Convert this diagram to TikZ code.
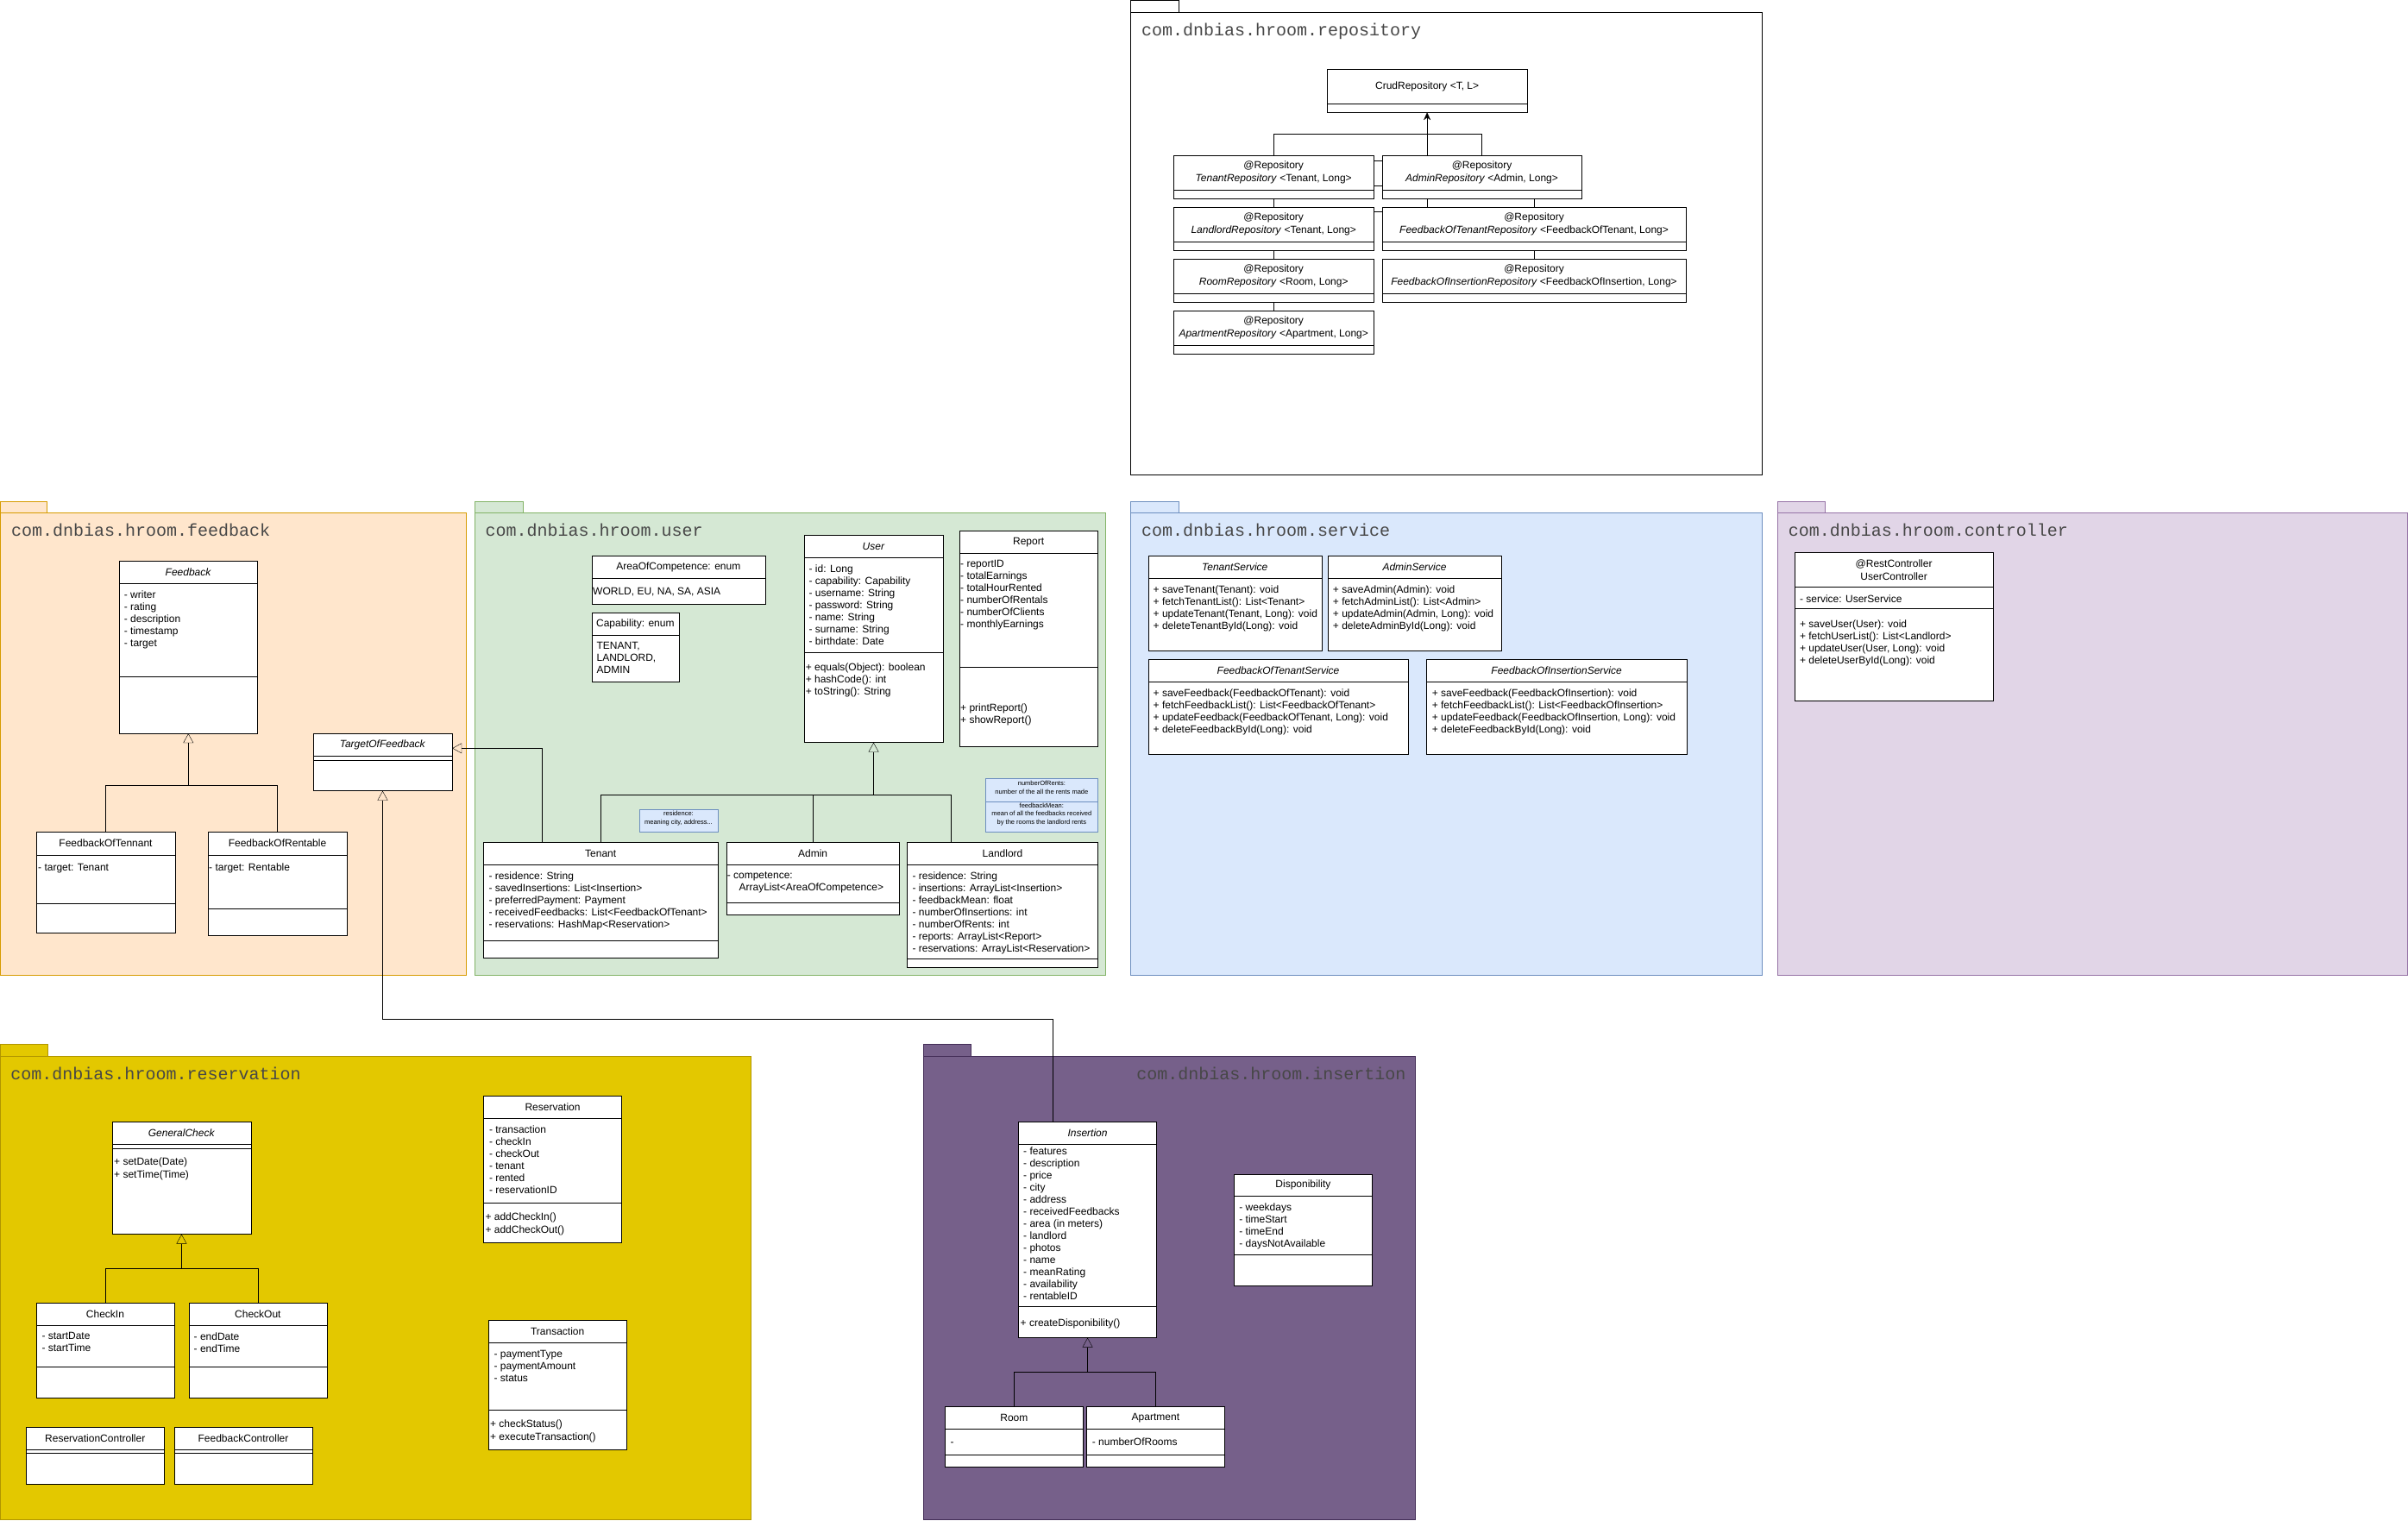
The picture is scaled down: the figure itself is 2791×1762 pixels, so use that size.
\documentclass[tikz,border=0pt]{standalone}
\usepackage{fontspec}
\setmainfont{Liberation Sans}
\setmonofont{Liberation Mono}
\usetikzlibrary{arrows.meta,fit,calc}

\definecolor{fbFill}{HTML}{FFE6CC}
\definecolor{fbLine}{HTML}{D79B00}
\definecolor{usrFill}{HTML}{D5E8D4}
\definecolor{usrLine}{HTML}{82B366}
\definecolor{srvFill}{HTML}{DAE8FC}
\definecolor{srvLine}{HTML}{6C8EBF}
\definecolor{ctrlFill}{HTML}{E1D5E7}
\definecolor{ctrlLine}{HTML}{9673A6}
\definecolor{resFill}{HTML}{E3C800}
\definecolor{resLine}{HTML}{B09500}
\definecolor{insFill}{HTML}{76608A}
\definecolor{insLine}{HTML}{432D57}

\pgfdeclarelayer{pkg}
\pgfdeclarelayer{edges}
\pgfsetlayers{pkg,edges,main}

\tikzset{
  classbox/.style={draw, fill=white, inner sep=0pt},
  classtitle/.style={align=center, inner sep=0pt, font=\fontsize{12}{15}\selectfont},
  members/.style={anchor=north west, inner sep=0pt, align=left, font=\fontsize{12}{14}\selectfont, execute at begin node=\strut},
  loose/.style={font=\fontsize{12}{15}\selectfont},
  pkgtitle/.style={anchor=base west, inner sep=0pt, font=\ttfamily\fontsize{20}{24}\selectfont, text=black!72},
  note/.style={draw=srvLine, fill=srvFill, inner sep=0pt, align=center, font=\fontsize{7.5}{9.5}\selectfont},
  gen/.style={-{Triangle[open, length=11pt, width=12pt]}},
  inherit/.style={-{Stealth[length=9pt, width=8pt]}},
  pkgRepo/.style={draw=black, fill=white},
  pkgFeedback/.style={draw=fbLine, fill=fbFill},
  pkgUser/.style={draw=usrLine, fill=usrFill},
  pkgService/.style={draw=srvLine, fill=srvFill},
  pkgController/.style={draw=ctrlLine, fill=ctrlFill},
  pkgReservation/.style={draw=resLine, fill=resFill},
  pkgInsertion/.style={draw=insLine, fill=insFill}
}

% name, left, top, right, bottom, head line, attribute line, title
\newcommand{\umlclass}[8]{%
  \node[classbox, fit={(#2,#3) (#4,#5)}] (#1) {};
  \draw (#2,#6) -- (#4,#6) (#2,#7) -- (#4,#7);
  \node[classtitle] (#1-title) at ({(#2+#4)/2},{(#3+#6)/2}) {#8};
}
% [style] name, x, centre of first line, text
\newcommand{\members}[5][]{%
  \node[members,#1] (#2) at ({#3},{#4-5.5}) {#5};
}
% left, tab top, tab right, body top, right, bottom, style
\newcommand{\umlpackage}[7]{%
  \draw[#7] (#1,#2) rectangle (#3,#4);
  \draw[#7] (#1,#4) rectangle (#5,#6);
}

\begin{document}
\begin{tikzpicture}[x=1pt, y=-1pt, line width=1pt]
  \useasboundingbox (0,0) rectangle (2791,1762);

  \begin{pgfonlayer}{pkg}
    \umlpackage{1310.6}{0.5}{1366}{14}{2042}{550}{pkgRepo}
    \umlpackage{0.5}{581}{54.6}{594}{540}{1130}{pkgFeedback}
    \umlpackage{550.5}{581}{605.7}{594}{1281}{1130}{pkgUser}
    \umlpackage{1310.6}{581}{1366}{594}{2042}{1130}{pkgService}
    \umlpackage{2060.4}{581}{2115.6}{594}{2790}{1130}{pkgController}
    \umlpackage{0.5}{1210}{55.6}{1224.3}{870}{1761.5}{pkgReservation}
    \umlpackage{1070.5}{1210}{1125.5}{1224.3}{1640.6}{1761.5}{pkgInsertion}
  \end{pgfonlayer}

  \node[pkgtitle] (repoTitle) at (1323,41.5) {com.dnbias.hroom.repository};
  \node[pkgtitle] (fbTitle) at (13,621) {com.dnbias.hroom.feedback};
  \node[pkgtitle] (userTitle) at (562.5,621) {com.dnbias.hroom.user};
  \node[pkgtitle] (srvTitle) at (1323,621) {com.dnbias.hroom.service};
  \node[pkgtitle] (ctrlTitle) at (2072.6,621) {com.dnbias.hroom.controller};
  \node[pkgtitle] (resTitle) at (12.3,1251) {com.dnbias.hroom.reservation};
  \node[pkgtitle, anchor=base east] (insTitle) at (1629.5,1251) {com.dnbias.hroom.insertion};

  % repository
  \umlclass{crud}{1538.5}{80}{1769.7}{130}{120}{120}{CrudRepository <T, L>}
  \umlclass{tenantRepo}{1360.6}{180}{1591.8}{230}{220}{220}{@Repository\\\textit{TenantRepository} <Tenant, Long>}
  \umlclass{adminRepo}{1602}{180}{1833}{230}{220}{220}{@Repository\\\textit{AdminRepository} <Admin, Long>}
  \umlclass{landlordRepo}{1360.6}{240}{1591.8}{290}{280}{280}{@Repository\\\textit{LandlordRepository} <Tenant, Long>}
  \umlclass{fbTenantRepo}{1602}{240}{1954}{290}{280}{280}{@Repository\\\textit{FeedbackOfTenantRepository} <FeedbackOfTenant, Long>}
  \umlclass{roomRepo}{1360.6}{300}{1591.8}{350}{340}{340}{@Repository\\\textit{RoomRepository} <Room, Long>}
  \umlclass{fbInsRepo}{1602}{300}{1954}{350}{340}{340}{@Repository\\\textit{FeedbackOfInsertionRepository} <FeedbackOfInsertion, Long>}
  \umlclass{apartmentRepo}{1360.6}{360}{1591.8}{410}{400}{400}{@Repository\\\textit{ApartmentRepository} <Apartment, Long>}

  % feedback
  \umlclass{feedback}{138}{650}{298.6}{850}{676.5}{784.5}{\textit{Feedback}}
  \members{feedback-attr}{143.7}{690}{- writer\\- rating\\- description\\- timestamp\\- target}
  \umlclass{targetFb}{363}{850}{524}{916.5}{876.5}{881}{\textit{TargetOfFeedback}}
  \umlclass{fbTennant}{42}{964.5}{203}{1081}{990.7}{1047.5}{FeedbackOfTennant}
  \members{fbTennant-attr}{44}{1005.3}{- target: Tenant}
  \umlclass{fbRentable}{241}{964.5}{402}{1084.5}{990.7}{1053}{FeedbackOfRentable}
  \members{fbRentable-attr}{242}{1005.3}{- target: Rentable}

  % user
  \umlclass{area}{686}{644.5}{886.7}{700}{670.4}{670.4}{AreaOfCompetence: enum}
  \members{area-attr}{687}{684.5}{WORLD, EU, NA, SA, ASIA}
  \umlclass{capability}{686}{710.4}{786.7}{790.4}{736.5}{736.5}{Capability: enum}
  \members{capability-attr}{691.4}{750}{TENANT,\\LANDLORD,\\ADMIN}
  \umlclass{user}{932.2}{620.5}{1092.9}{860.5}{646.4}{755.8}{\textit{User}}
  \members{user-attr}{937.4}{660.2}{- id: Long\\- capability: Capability\\- username: String\\- password: String\\- name: String\\- surname: String\\- birthdate: Date}
  \members{user-ops}{933.6}{774.4}{+ equals(Object): boolean\\+ hashCode(): int\\+ toString(): String}
  \umlclass{report}{1111.8}{615.5}{1272.5}{865.6}{641.3}{773.3}{Report}
  \members{report-attr}{1113}{655}{- reportID\\- totalEarnings\\- totalHourRented\\- numberOfRentals\\- numberOfClients\\- monthlyEarnings}
  \members{report-ops}{1113}{821}{+ printReport()\\+ showReport()}
  \umlclass{tenant}{560.6}{976.5}{831.7}{1110.4}{1002.4}{1090.4}{Tenant}
  \members{tenant-attr}{566.3}{1016}{- residence: String\\- savedInsertions: List<Insertion>\\- preferredPayment: Payment\\- receivedFeedbacks: List<FeedbackOfTenant>\\- reservations: HashMap<Reservation>}
  \umlclass{admin}{841.7}{976.5}{1042.6}{1060.5}{1002.4}{1046.4}{Admin}
  \members{admin-attr}{842.6}{1016.5}{- competence:\\\hspace*{13.8pt}ArrayList<AreaOfCompetence>}
  \umlclass{landlord}{1051.6}{976.5}{1272.5}{1121.3}{1002.4}{1110.7}{Landlord}
  \members{landlord-attr}{1057.3}{1016.5}{- residence: String\\- insertions: ArrayList<Insertion>\\- feedbackMean: float\\- numberOfInsertions: int\\- numberOfRents: int\\- reports: ArrayList<Report>\\- reservations: ArrayList<Reservation>}
  \node[note, fit={(741.2,938.4) (831.7,964.5)}] (residenceNote) {residence:\\meaning city, address...};
  \node[note, fit={(1142.2,902.4) (1272.5,929)}] (rentsNote) {numberOfRents:\\number of the all the rents made};
  \node[note, fit={(1142.2,929) (1272.5,964.5)}] (meanNote) {feedbackMean:\\mean of all the feedbacks received\\by the rooms the landlord rents};

  % service
  \umlclass{tenantSrv}{1330.8}{644.3}{1531.7}{754.3}{670.3}{670.3}{\textit{TenantService}}
  \members{tenantSrv-ops}{1336.5}{684.3}{+ saveTenant(Tenant): void\\+ fetchTenantList(): List<Tenant>\\+ updateTenant(Tenant, Long): void\\+ deleteTenantById(Long): void}
  \umlclass{adminSrv}{1539}{644.3}{1740}{754.3}{670.3}{670.3}{\textit{AdminService}}
  \members{adminSrv-ops}{1544.7}{684.3}{+ saveAdmin(Admin): void\\+ fetchAdminList(): List<Admin>\\+ updateAdmin(Admin, Long): void\\+ deleteAdminById(Long): void}
  \umlclass{fbTenantSrv}{1330.8}{764.3}{1632.2}{874.3}{790.3}{790.3}{\textit{FeedbackOfTenantService}}
  \members{fbTenantSrv-ops}{1336.5}{804.3}{+ saveFeedback(FeedbackOfTenant): void\\+ fetchFeedbackList(): List<FeedbackOfTenant>\\+ updateFeedback(FeedbackOfTenant, Long): void\\+ deleteFeedbackById(Long): void}
  \umlclass{fbInsSrv}{1653.4}{764.3}{1954.8}{874.3}{790.3}{790.3}{\textit{FeedbackOfInsertionService}}
  \members{fbInsSrv-ops}{1659.6}{804.3}{+ saveFeedback(FeedbackOfInsertion): void\\+ fetchFeedbackList(): List<FeedbackOfInsertion>\\+ updateFeedback(FeedbackOfInsertion, Long): void\\+ deleteFeedbackById(Long): void}

  % controller
  \umlclass{userCtrl}{2080.2}{640.3}{2310}{812.3}{680.3}{705.3}{@RestController\\UserController}
  \members{userCtrl-attr}{2085.8}{694}{- service: UserService}
  \members{userCtrl-ops}{2085.8}{724}{+ saveUser(User): void\\+ fetchUserList(): List<Landlord>\\+ updateUser(User, Long): void\\+ deleteUserById(Long): void}

  % reservation
  \umlclass{genCheck}{130.2}{1300.4}{290.7}{1430.4}{1326.4}{1330.7}{\textit{GeneralCheck}}
  \members[loose]{genCheck-ops}{132}{1347}{+ setDate(Date)\\+ setTime(Time)}
  \umlclass{checkIn}{42}{1510.4}{202}{1620.4}{1536.4}{1584.3}{CheckIn}
  \members{checkIn-attr}{48.3}{1550}{- startDate\\- startTime}
  \umlclass{checkOut}{218.9}{1510.4}{378.8}{1620.4}{1536.4}{1584.3}{CheckOut}
  \members{checkOut-attr}{224.5}{1550}{- endDate\\- endTime}
  \umlclass{resCtrl}{30.3}{1654.3}{190.2}{1720.4}{1680.4}{1684.3}{ReservationController}
  \umlclass{fbCtrl}{202}{1654.3}{362}{1720.4}{1680.4}{1684.3}{FeedbackController}
  \umlclass{reservation}{560.6}{1270.4}{720.5}{1440.4}{1296.4}{1394.3}{Reservation}
  \members{reservation-attr}{566.8}{1310.4}{- transaction\\- checkIn\\- checkOut\\- tenant\\- rented\\- reservationID}
  \members[loose]{reservation-ops}{562.3}{1411.4}{+ addCheckIn()\\+ addCheckOut()}
  \umlclass{transaction}{566.2}{1530.4}{726.2}{1680.4}{1556.4}{1634.3}{Transaction}
  \members{transaction-attr}{572.4}{1570.4}{- paymentType\\- paymentAmount\\- status}
  \members[loose]{transaction-ops}{567.9}{1651}{+ checkStatus()\\+ executeTransaction()}

  % insertion
  \umlclass{insertion}{1180.6}{1300.4}{1340.5}{1550.4}{1326.4}{1514.3}{\textit{Insertion}}
  \members{insertion-attr}{1186}{1335}{- features\\- description\\- price\\- city\\- address\\- receivedFeedbacks\\- area (in meters)\\- landlord\\- photos\\- name\\- meanRating\\- availability\\- rentableID}
  \members{insertion-ops}{1182.5}{1533.2}{+ createDisponibility()}
  \umlclass{dispo}{1430.5}{1360.7}{1590.4}{1490.4}{1386.4}{1454.6}{Disponibility}
  \members{dispo-attr}{1436.2}{1400}{- weekdays\\- timeStart\\- timeEnd\\- daysNotAvailable}
  \umlclass{room}{1095.2}{1630.4}{1255.6}{1700.4}{1656.4}{1686.4}{Room}
  \members{room-attr}{1101.3}{1670.7}{-}
  \umlclass{apartment}{1259.4}{1630.4}{1419.4}{1700.4}{1656.4}{1686.4}{Apartment}
  \members{apartment-attr}{1265.7}{1670.7}{- numberOfRooms}

  \begin{pgfonlayer}{edges}
    % repositories extend CrudRepository
    \coordinate (repoJoin) at ($(crud.south)+(0,25)$);
    \draw[inherit] (tenantRepo.north) |- (repoJoin) -- (crud.south);
    \draw (adminRepo.north) |- (repoJoin);
    \draw (landlordRepo.north) |- ($(crud.south)+(0,85)$) -- (repoJoin);
    \draw (roomRepo.north) |- ($(crud.south)+(0,115)$) -- (repoJoin);
    \draw (apartmentRepo.north) |- ($(crud.south)+(0,56)$) -- (repoJoin);
    \draw (fbTenantRepo.north) |- ($(crud.south)+(0,70)$) -- (repoJoin);
    \draw (fbInsRepo.north) -- (fbTenantRepo.north);

    \coordinate (fbJoin) at ($(feedback.south)+(0,60)$);
    \draw[gen] (fbTennant.north) |- (fbJoin) -- (feedback.south);
    \draw (fbRentable.north) |- (fbJoin);

    \coordinate (userJoin) at ($(user.south)+(0,60)$);
    \draw[gen] (tenant.north) |- (userJoin) -- (user.south);
    \draw (admin.north) |- (userJoin);
    \draw ($(landlord.north west)+(50.7,0)$) |- (userJoin);

    \coordinate (tenantOut) at ($(tenant.north west)+(67.8,0)$);
    \coordinate (targetIn) at ($(targetFb.north east)+(0,17.5)$);
    \draw[gen] (tenantOut) |- (targetIn);

    \coordinate (insOut) at ($(insertion.north west)+(39.8,0)$);
    \draw[gen] (insOut) |- ($(targetFb.south)+(0,264)$) -- (targetFb.south);

    \coordinate (checkJoin) at ($(genCheck.south)+(0,40)$);
    \draw[gen] (checkIn.north) |- (checkJoin) -- (genCheck.south);
    \draw (checkOut.north) |- (checkJoin);

    \coordinate (insJoin) at ($(insertion.south)+(0,40)$);
    \draw[gen] (room.north) |- (insJoin) -- (insertion.south);
    \draw (apartment.north) |- (insJoin);
  \end{pgfonlayer}
\end{tikzpicture}
\end{document}
